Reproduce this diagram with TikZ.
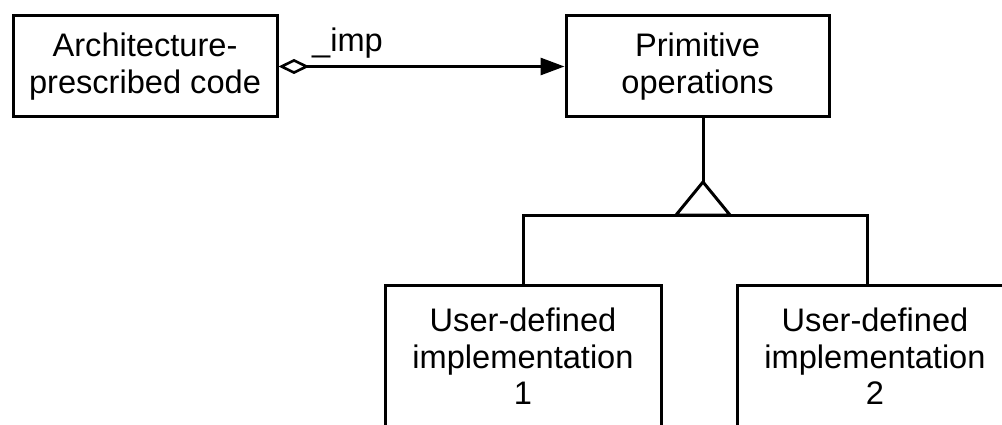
\documentclass[tikz,border=0pt]{standalone}
\usepackage{fontspec}
\setmainfont{Liberation Sans}
\usetikzlibrary{arrows.meta}

\tikzset{
  umlbox/.style={draw, line width=3pt, rectangle, inner sep=0pt,
    align=center, font=\fontsize{32.6}{36.5}\selectfont},
  link/.style={line width=3pt},
  aggregation/.style={link,
    {Diamond[open,length=31pt,width=15pt,line width=2.6pt]}-{Triangle[length=24pt,width=17pt]}},
  lbl/.style={inner sep=0pt, font=\fontsize{32.6}{36.5}\selectfont}
}

\begin{document}
\begin{tikzpicture}[x=1pt, y=-1pt, line join=miter]
  % canvas
  \clip (0,0) rectangle (1002,425);
  \fill[white] (0,0) rectangle (1002,425);

  % classes
  \node[umlbox, minimum width=264pt, minimum height=101pt] (arch) at (145,66.5)
    {Architecture-\\prescribed code};
  \node[umlbox, minimum width=263pt, minimum height=101pt] (prim) at (697.5,66.5)
    {Primitive\\operations};
  \node[umlbox, minimum width=276pt, minimum height=143pt] (impa) at (523,356.5)
    {User-defined\\implementation\\1};
  \node[umlbox, minimum width=276pt, minimum height=143pt] (impb) at (875,356.5)
    {User-defined\\implementation\\2};

  % aggregation with navigable end
  \draw[aggregation] (arch.east) -- (prim.west);
  \node[lbl, anchor=base west] (role) at (312,52) {\_imp};

  % generalization
  \coordinate (apex) at (703,182);
  \coordinate (bl) at (676,215);
  \coordinate (br) at (730,215);
  \coordinate (rdrop) at (867,215);
  \draw[link] (apex |- prim.south) -- (apex);
  \draw[link] (apex) -- (bl) -- (br) -- cycle;
  \draw[link] (impa.north) -- (impa.north |- bl) -- (rdrop) -- (rdrop |- impb.north);
\end{tikzpicture}
\end{document}
